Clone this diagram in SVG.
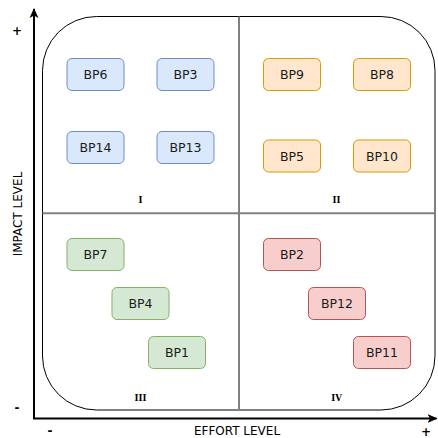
<svg xmlns="http://www.w3.org/2000/svg" width="438" height="438" viewBox="0 0 438 438">
  <style>
    .box { stroke-width: 1; }
    .blue { fill: #dae8fc; stroke: #6c8ebf; }
    .orange { fill: #ffe6cc; stroke: #d79b00; }
    .green { fill: #d5e8d4; stroke: #82b366; }
    .red { fill: #f8cecc; stroke: #b85450; }
    .lbl { font-family: "DejaVu Sans", Verdana, sans-serif; font-size: 12.5px; fill: #1a1a1a; text-anchor: middle; dominant-baseline: central; }
    .quad { font-family: "DejaVu Serif", "Liberation Serif", serif; font-weight: bold; font-size: 8.5px; fill: #000; text-anchor: middle; dominant-baseline: central; }
    .axis-title { font-family: "DejaVu Sans", Verdana, sans-serif; font-size: 12px; fill: #000; text-anchor: middle; }
    .sign { font-family: "DejaVu Sans", Verdana, sans-serif; font-weight: bold; font-size: 12px; fill: #000; text-anchor: middle; dominant-baseline: central; }
  </style>
  <defs>
    <marker id="arrow" viewBox="0 0 10 10" refX="9" refY="5" markerWidth="10" markerHeight="10" markerUnits="userSpaceOnUse" orient="auto">
      <path d="M0,0.5 L10,5 L0,9.5 L2.5,5 Z" fill="#000"/>
    </marker>
  </defs>

  <rect width="438" height="438" fill="#fff"/>

  <!-- matrix frame and quadrant dividers -->
  <g id="frame">
    <rect x="42.5" y="16.5" width="392.5" height="393.5" rx="54" ry="54" fill="none" stroke="#000" stroke-width="1"/>
    <line x1="239" y1="16.5" x2="239" y2="410" stroke="#808080" stroke-width="2"/>
    <line x1="42.5" y1="213.3" x2="435" y2="213.3" stroke="#808080" stroke-width="2"/>
  </g>

  <!-- axes -->
  <g id="connectors" fill="none" stroke="#000" stroke-width="2">
    <path d="M34,418.5 L34,9" marker-end="url(#arrow)"/>
    <path d="M33,418.5 L436.5,418.5" marker-end="url(#arrow)"/>
  </g>

  <g id="axis-labels">
    <text class="axis-title" transform="translate(22,214) rotate(-90)">IMPACT LEVEL</text>
    <text class="axis-title" x="237" y="435">EFFORT LEVEL</text>
    <text class="sign" x="17" y="31">+</text>
    <text class="sign" x="17" y="408">-</text>
    <text class="sign" x="50" y="431">-</text>
    <text class="sign" x="426" y="432">+</text>
  </g>

  <g id="quadrant-labels">
    <text class="quad" x="140.5" y="200">I</text>
    <text class="quad" x="336.5" y="200">II</text>
    <text class="quad" x="140.5" y="398">III</text>
    <text class="quad" x="336.5" y="398">IV</text>
  </g>

  <!-- quadrant I -->
  <g id="bp6"><rect class="box blue" x="67" y="58.5" width="57" height="32" rx="5"/><text class="lbl" x="95.5" y="74.5">BP6</text></g>
  <g id="bp3"><rect class="box blue" x="157" y="58.5" width="57" height="32" rx="5"/><text class="lbl" x="185.5" y="74.5">BP3</text></g>
  <g id="bp14"><rect class="box blue" x="67" y="131.5" width="57" height="32" rx="5"/><text class="lbl" x="95.5" y="147.5">BP14</text></g>
  <g id="bp13"><rect class="box blue" x="157" y="131.5" width="57" height="32" rx="5"/><text class="lbl" x="185.5" y="147.5">BP13</text></g>

  <!-- quadrant II -->
  <g id="bp9"><rect class="box orange" x="263.5" y="58.5" width="57" height="32" rx="5"/><text class="lbl" x="292" y="74.5">BP9</text></g>
  <g id="bp8"><rect class="box orange" x="353.5" y="58.5" width="57" height="32" rx="5"/><text class="lbl" x="382" y="74.5">BP8</text></g>
  <g id="bp5"><rect class="box orange" x="263.5" y="140" width="57" height="32" rx="5"/><text class="lbl" x="292" y="156">BP5</text></g>
  <g id="bp10"><rect class="box orange" x="353.5" y="140" width="57" height="32" rx="5"/><text class="lbl" x="382" y="156">BP10</text></g>

  <!-- quadrant III -->
  <g id="bp7"><rect class="box green" x="67" y="238.5" width="57" height="32" rx="5"/><text class="lbl" x="95.5" y="254.5">BP7</text></g>
  <g id="bp4"><rect class="box green" x="112" y="287.5" width="57" height="32" rx="5"/><text class="lbl" x="140.5" y="303.5">BP4</text></g>
  <g id="bp1"><rect class="box green" x="148.5" y="336.5" width="57" height="32" rx="5"/><text class="lbl" x="177" y="352.5">BP1</text></g>

  <!-- quadrant IV -->
  <g id="bp2"><rect class="box red" x="263.5" y="238.5" width="57" height="32" rx="5"/><text class="lbl" x="292" y="254.5">BP2</text></g>
  <g id="bp12"><rect class="box red" x="308.5" y="287.5" width="57" height="32" rx="5"/><text class="lbl" x="337" y="303.5">BP12</text></g>
  <g id="bp11"><rect class="box red" x="353.5" y="336.5" width="57" height="32" rx="5"/><text class="lbl" x="382" y="352.5">BP11</text></g>
</svg>
